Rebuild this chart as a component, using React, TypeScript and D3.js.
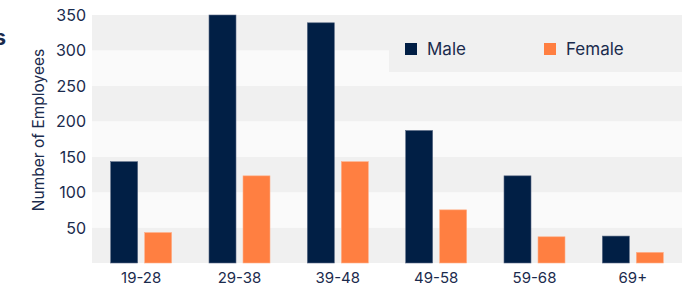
import React from "react";
import * as d3 from "d3";

const categories = ["19-28", "29-38", "39-48", "49-58", "59-68", "69+"];
const maleValues = [143, 350, 339, 187, 123, 38];
const femaleValues = [43, 123, 143, 75, 37, 15];
const yTicks = [50, 100, 150, 200, 250, 300, 350];
const seriesNames = ["Male", "Female"];

const W = 697;
const H = 287;
const margin = { left: 92, right: 15, top: 15, bottom: 24 };
const NAVY = "#011f45";
const ORANGE = "#ff7f41";
const TEXT = "#1b2b4d";
const FONT = "Inter, 'Noto Sans', sans-serif";

export default function App() {
  const x0 = d3
    .scaleBand<string>()
    .domain(categories)
    .range([margin.left, W - margin.right])
    .paddingInner(0)
    .paddingOuter(0);
  const y = d3.scaleLinear().domain([0, 350]).range([H - margin.bottom, margin.top]);
  const barW = 27;
  const gap = 7;
  const bands = d3.range(0, 350, 50);

  return (
    <svg
      width={W}
      height={H}
      style={{ position: "absolute", left: 0, top: 0, display: "block" }}
      fontFamily={FONT}
    >
      <rect x={0} y={0} width={W} height={H} fill="#ffffff" />
      <text x={6} y={45} textAnchor="end" fontSize={21} fontWeight={700} fill={TEXT}>
        Employees by Age Groups
      </text>
      {bands.map((b, i) => (
        <rect
          key={b}
          x={margin.left}
          y={y(b + 50)}
          width={W - margin.right - margin.left}
          height={y(b) - y(b + 50)}
          fill={i % 2 === 0 ? "#f0f0f0" : "#fafafa"}
        />
      ))}
      {/* legend */}
      <rect x={389} y={margin.top} width={W - margin.right - 389} height={72 - margin.top} fill="#f0f0f0" />
      {seriesNames.map((s, i) => {
        const lx = i === 0 ? 405 : 544;
        return (
          <g key={s}>
            <rect x={lx} y={43} width={12} height={12} fill={i === 0 ? NAVY : ORANGE} />
            <text x={lx + 22} y={55} fontSize={17} fill={TEXT}>
              {s}
            </text>
          </g>
        );
      })}
      {categories.map((c, i) => {
        const cx = (x0(c) as number) + x0.bandwidth() / 2;
        const mx = cx - gap / 2 - barW;
        const fx = cx + gap / 2;
        return (
          <g key={c}>
            <rect
              x={mx}
              y={y(maleValues[i])}
              width={barW}
              height={y(0) - y(maleValues[i])}
              fill={NAVY}
              stroke="#5a6a85"
              strokeWidth={0.6}
            />
            <rect
              x={fx}
              y={y(femaleValues[i])}
              width={barW}
              height={y(0) - y(femaleValues[i])}
              fill={ORANGE}
              stroke="#ffb08a"
              strokeWidth={0.6}
            />
            <text x={cx} y={283} textAnchor="middle" fontSize={15} fill={TEXT}>
              {c}
            </text>
          </g>
        );
      })}
      {yTicks.map((t) => (
        <text key={t} x={86} y={y(t) + 6} textAnchor="end" fontSize={16} fill={TEXT}>
          {t}
        </text>
      ))}
      <text
        transform={`translate(44, 130) rotate(-90)`}
        textAnchor="middle"
        fontSize={15.5}
        fill={TEXT}
      >
        Number of Employees
      </text>
    </svg>
  );
}
